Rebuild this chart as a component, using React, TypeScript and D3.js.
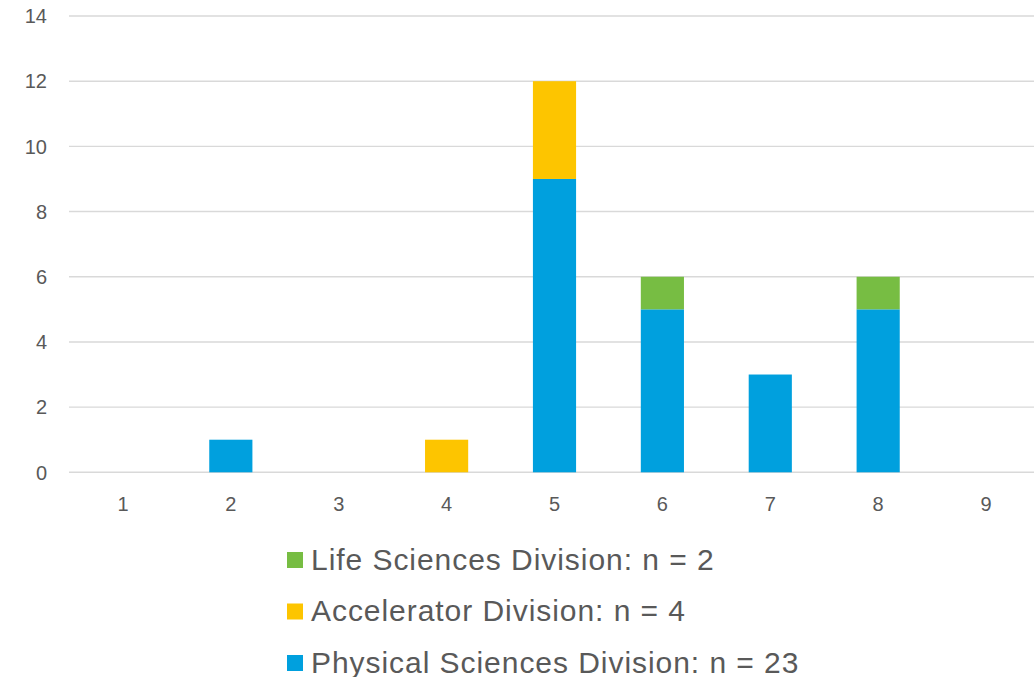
import React from "react";
import * as d3 from "d3";

const categories = ["1", "2", "3", "4", "5", "6", "7", "8", "9"];
const physical = [0, 1, 0, 0, 9, 5, 3, 5, 0];
const accelerator = [0, 0, 0, 1, 3, 0, 0, 0, 0];
const life = [0, 0, 0, 0, 0, 1, 0, 1, 0];
const yTicks = [0, 2, 4, 6, 8, 10, 12, 14];

const seriesNames = ["Physical Sciences Division: n = 23", "Accelerator Division: n = 4", "Life Sciences Division: n = 2"];
const seriesColors = ["#00A0DE", "#FDC500", "#77BD43"];
const legendOrder = [2, 1, 0];

export default function App() {
  const W = 1034, H = 677;
  const xc = d3.scaleBand<string>().domain(categories).range([69, 1040]);
  const y = d3.scaleLinear().domain([0, 14]).range([472.3, 16]);
  const table = categories.map((c, i) => ({ cat: c, p: physical[i], a: accelerator[i], l: life[i] }));
  const stack = d3.stack<any>().keys(["p", "a", "l"])(table);
  const bw = xc.bandwidth() * 0.4;
  const font = "'Liberation Sans', Arial, sans-serif";
  return (
    <svg width={W} height={H} style={{ position: "absolute", left: 0, top: 0, background: "#fff" }}>
      {yTicks.map((t) => (
        <g key={t}>
          <line x1={69} x2={1040} y1={y(t)} y2={y(t)} stroke="#D9D9D9" strokeWidth={1.4} />
          <text x={47} y={y(t)} dy="0.36em" textAnchor="end" fontFamily={font} fontSize={20} fill="#595959">{t}</text>
        </g>
      ))}
      {stack.map((s, si) => (
        <g key={si} fill={seriesColors[si]}>
          {s.map((d, i) => {
            if (d[1] - d[0] <= 0) return null;
            const cx = xc(categories[i])! + xc.bandwidth() / 2;
            return <rect key={i} x={cx - bw / 2} width={bw} y={y(d[1])} height={y(d[0]) - y(d[1])} />;
          })}
        </g>
      ))}
      {categories.map((c) => (
        <text key={c} x={xc(c)! + xc.bandwidth() / 2} y={504} dy="0.36em" textAnchor="middle" fontFamily={font} fontSize={20} fill="#595959">{c}</text>
      ))}
      {legendOrder.map((si, k) => (
        <g key={si} transform={`translate(287, ${552 + k * 51.5})`}>
          <rect x={0} y={0} width={16} height={16} fill={seriesColors[si]} />
          <text x={24} y={17.5} fontFamily={font} fontSize={30} letterSpacing={0.95} fill="#595959">{seriesNames[si]}</text>
        </g>
      ))}
    </svg>
  );
}
